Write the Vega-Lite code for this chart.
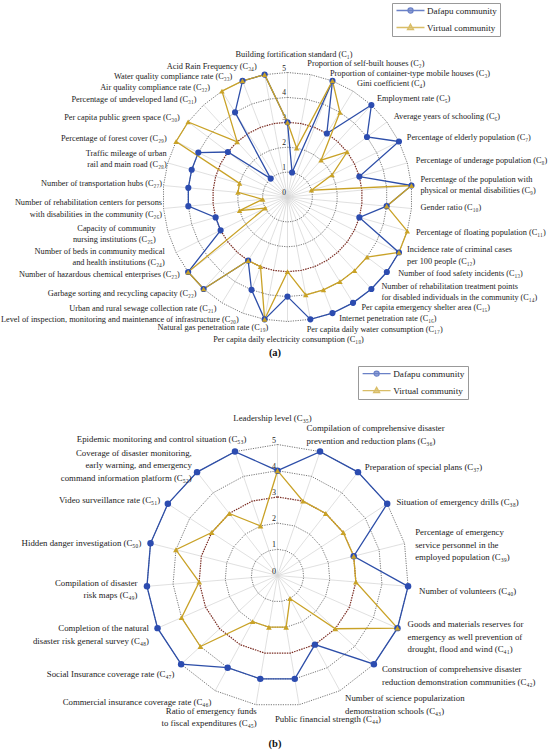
{
  "$schema": "https://vega.github.io/schema/vega-lite/v6.json",
  "padding": 0,
  "spacing": 0,
  "bounds": "flush",
  "background": "white",
  "config": {"view": {"stroke": null}},
  "resolve": {"scale": {"fill": "independent", "stroke": "independent", "shape": "independent"}},
  "datasets": {
    "a": [
      {"i": 0, "label": "Building fortification standard (C₁)", "Dafapu": 3, "Virtual": 3},
      {"i": 1, "label": "Proportion of self-built houses (C₂)", "Dafapu": 1, "Virtual": 2},
      {"i": 2, "label": "Proportion of container-type mobile houses (C₃)", "Dafapu": 5, "Virtual": 5},
      {"i": 3, "label": "Gini coefficient (C₄)", "Dafapu": 3, "Virtual": 4},
      {"i": 4, "label": "Employment rate (C₅)", "Dafapu": 5, "Virtual": 2},
      {"i": 5, "label": "Average years of schooling (C₆)", "Dafapu": 4, "Virtual": 3},
      {"i": 6, "label": "Percentage of elderly population (C₇)", "Dafapu": 5, "Virtual": 2},
      {"i": 7, "label": "Percentage of underage population (C₈)", "Dafapu": 3, "Virtual": 1},
      {"i": 8, "label": "Percentage of the population with\nphysical or mental disabilities (C₉)", "Dafapu": 5, "Virtual": 5},
      {"i": 9, "label": "Gender ratio (C₁₀)", "Dafapu": 4, "Virtual": 4},
      {"i": 10, "label": "Percentage of floating population (C₁₁)", "Dafapu": 3, "Virtual": 5},
      {"i": 11, "label": "Incidence rate of criminal cases\nper 100 people (C₁₂)", "Dafapu": 5, "Virtual": 5},
      {"i": 12, "label": "Number of food safety incidents (C₁₃)", "Dafapu": 5, "Virtual": 4},
      {"i": 13, "label": "Number of rehabilitation treatment points\nfor disabled individuals in the community (C₁₄)", "Dafapu": 5, "Virtual": 4},
      {"i": 14, "label": "Per capita emergency shelter area (C₁₅)", "Dafapu": 5, "Virtual": 4},
      {"i": 15, "label": "Internet penetration rate (C₁₆)", "Dafapu": 5, "Virtual": 4},
      {"i": 16, "label": "Per capita daily water consumption (C₁₇)", "Dafapu": 5, "Virtual": 4},
      {"i": 17, "label": "Per capita daily electricity consumption (C₁₈)", "Dafapu": 4, "Virtual": 3},
      {"i": 18, "label": "Natural gas penetration rate (C₁₉)", "Dafapu": 5, "Virtual": 5},
      {"i": 19, "label": "Level of inspection, monitoring and maintenance of infrastructure (C₂₀)", "Dafapu": 4, "Virtual": 3},
      {"i": 20, "label": "Urban and rural sewage collection rate (C₂₁)", "Dafapu": 3, "Virtual": 3},
      {"i": 21, "label": "Garbage sorting and recycling capacity (C₂₂)", "Dafapu": 5, "Virtual": 5},
      {"i": 22, "label": "Number of hazardous chemical enterprises  (C₂₃)", "Dafapu": 5, "Virtual": 5},
      {"i": 23, "label": "Number of beds in community medical\nand health institutions (C₂₄)", "Dafapu": 3, "Virtual": 1},
      {"i": 24, "label": "Capacity of community\nnursing institutions (C₂₅)", "Dafapu": 3, "Virtual": 2},
      {"i": 25, "label": "Number of rehabilitation centers for persons\nwith disabilities in the community (C₂₆)", "Dafapu": 4, "Virtual": 1},
      {"i": 26, "label": "Number of transportation hubs (C₂₇)", "Dafapu": 4, "Virtual": 2},
      {"i": 27, "label": "Traffic mileage of urban\nrail and main road (C₂₈)", "Dafapu": 4, "Virtual": 2},
      {"i": 28, "label": "Percentage of forest cover (C₂₉)", "Dafapu": 4, "Virtual": 5},
      {"i": 29, "label": "Per capita public green space (C₃₀)", "Dafapu": 3, "Virtual": 5},
      {"i": 30, "label": "Percentage of undeveloped land (C₃₁)", "Dafapu": 1, "Virtual": 3},
      {"i": 31, "label": "Air quality compliance rate (C₃₂)", "Dafapu": 4, "Virtual": 5},
      {"i": 32, "label": "Water quality compliance rate (C₃₃)", "Dafapu": 5, "Virtual": 5},
      {"i": 33, "label": "Acid Rain Frequency (C₃₄)", "Dafapu": 5, "Virtual": 5}
    ],
    "b": [
      {"i": 0, "label": "Leadership level (C₃₅)", "Dafapu": 4, "Virtual": 4},
      {"i": 1, "label": "Compilation of comprehensive disaster\nprevention and reduction plans (C₃₆)", "Dafapu": 5, "Virtual": 3},
      {"i": 2, "label": "Preparation of special plans (C₃₇)", "Dafapu": 5, "Virtual": 3},
      {"i": 3, "label": "Situation of emergency drills (C₃₈)", "Dafapu": 5, "Virtual": 3},
      {"i": 4, "label": "Percentage of emergency\nservice personnel in the\nemployed population (C₃₉)", "Dafapu": 3, "Virtual": 3},
      {"i": 5, "label": "Number of volunteers (C₄₀)", "Dafapu": 5, "Virtual": 3},
      {"i": 6, "label": "Goods and materials reserves for\nemergency as well prevention of\ndrought, flood and wind (C₄₁)", "Dafapu": 5, "Virtual": 5},
      {"i": 7, "label": "Construction of comprehensive disaster\nreduction demonstration communities (C₄₂)", "Dafapu": 5, "Virtual": 3},
      {"i": 8, "label": "Number of science popularization\ndemonstration schools (C₄₃)", "Dafapu": 3, "Virtual": 1},
      {"i": 9, "label": "Public financial strength (C₄₄)", "Dafapu": 4, "Virtual": 2},
      {"i": 10, "label": "Ratio of emergency funds\nto fiscal expenditures (C₄₅)", "Dafapu": 4, "Virtual": 2},
      {"i": 11, "label": "Commercial insurance coverage rate (C₄₆)", "Dafapu": 4, "Virtual": 2},
      {"i": 12, "label": "Social Insurance coverage rate (C₄₇)", "Dafapu": 5, "Virtual": 4},
      {"i": 13, "label": "Completion of the natural\ndisaster risk general survey (C₄₈)", "Dafapu": 5, "Virtual": 4},
      {"i": 14, "label": "Compilation of disaster\nrisk maps (C₄₉)", "Dafapu": 5, "Virtual": 3},
      {"i": 15, "label": "Hidden danger investigation (C₅₀)", "Dafapu": 5, "Virtual": 4},
      {"i": 16, "label": "Video surveillance rate (C₅₁)", "Dafapu": 5, "Virtual": 3},
      {"i": 17, "label": "Coverage of disaster monitoring,\nearly warning, and emergency\ncommand information platform (C₅₂)", "Dafapu": 5, "Virtual": 3},
      {"i": 18, "label": "Epidemic monitoring and control situation (C₅₃)", "Dafapu": 5, "Virtual": 2}
    ]
  },
  "vconcat": [
    {
      "width": 550,
      "height": 362,
      "title": {"text": "(a)", "orient": "bottom", "offset": -14, "font": "Liberation Serif", "fontSize": 10.5, "fontWeight": "bold", "color": "#111"},
      "data": {"name": "a"},
      "transform": [
        {"calculate": "2*PI*datum.i/34", "as": "ang"},
        {"calculate": "datum.i*360/34", "as": "deg"},
        {"calculate": "5.42*sin(datum.ang)", "as": "lx"},
        {"calculate": "5.42*cos(datum.ang) + (length(split(datum.label, '\\n')) - 1)*0.227", "as": "ly"}
      ],
      "encoding": {
        "x": {"field": "px", "type": "quantitative", "scale": {"domain": [-11.546, 10.542], "nice": false, "zero": false}, "axis": null},
        "y": {"field": "py", "type": "quantitative", "scale": {"domain": [-6.627, 7.912], "nice": false, "zero": false}, "axis": null}
      },
      "layer": [
        {
          "transform": [{"calculate": "0", "as": "px"}, {"calculate": "0", "as": "py"}, {"calculate": "5*sin(datum.ang)", "as": "px2"}, {"calculate": "5*cos(datum.ang)", "as": "py2"}],
          "mark": {"type": "rule", "color": "#d8d8d8", "strokeWidth": 0.8},
          "encoding": {"x2": {"field": "px2"}, "y2": {"field": "py2"}}
        },
        {
          "transform": [{"calculate": "[1,2,4,5]", "as": "lv"}, {"flatten": ["lv"]}, {"calculate": "datum.lv*sin(datum.ang)", "as": "px"}, {"calculate": "datum.lv*cos(datum.ang)", "as": "py"}],
          "mark": {"type": "line", "interpolate": "linear-closed", "color": "#555555", "strokeWidth": 0.8, "strokeDash": [1.2, 1.2]},
          "encoding": {"detail": {"field": "lv", "type": "nominal"}, "order": {"field": "i", "type": "quantitative"}}
        },
        {
          "transform": [{"calculate": "3*sin(datum.ang)", "as": "px"}, {"calculate": "3*cos(datum.ang)", "as": "py"}],
          "mark": {"type": "line", "interpolate": "linear-closed", "color": "#7a2c22", "strokeWidth": 1.2, "strokeDash": [1.5, 1]},
          "encoding": {"order": {"field": "i", "type": "quantitative"}}
        },
        {
          "transform": [{"filter": "datum.i == 0"}, {"calculate": "[0,1,2,3,4,5]", "as": "lv"}, {"flatten": ["lv"]}, {"calculate": "0", "as": "px"}, {"calculate": "datum.lv", "as": "py"}],
          "mark": {"type": "text", "align": "right", "baseline": "bottom", "dx": -1.5, "font": "Liberation Serif", "fontSize": 7.5, "color": "#222"},
          "encoding": {"text": {"field": "lv", "type": "nominal"}}
        },
        {
          "transform": [{"calculate": "datum.Dafapu*sin(datum.ang)", "as": "px"}, {"calculate": "datum.Dafapu*cos(datum.ang)", "as": "py"}],
          "mark": {"type": "line", "interpolate": "linear-closed", "color": "#2d4ea8", "strokeWidth": 1.3},
          "encoding": {"order": {"field": "i", "type": "quantitative"}}
        },
        {
          "transform": [{"calculate": "datum.Virtual*sin(datum.ang)", "as": "px"}, {"calculate": "datum.Virtual*cos(datum.ang)", "as": "py"}],
          "mark": {"type": "line", "interpolate": "linear-closed", "color": "#c9a227", "strokeWidth": 1.3},
          "encoding": {"order": {"field": "i", "type": "quantitative"}}
        },
        {
          "transform": [{"calculate": "datum.Dafapu*sin(datum.ang)", "as": "px"}, {"calculate": "datum.Dafapu*cos(datum.ang)", "as": "py"}],
          "mark": {"type": "point", "shape": "circle", "filled": true, "size": 38, "color": "#2c4cb0", "opacity": 1}
        },
        {
          "transform": [{"calculate": "datum.Virtual*sin(datum.ang)", "as": "px"}, {"calculate": "datum.Virtual*cos(datum.ang)", "as": "py"}],
          "mark": {"type": "point", "shape": "triangle-up", "filled": true, "size": 30, "color": "#c9a227", "opacity": 1}
        },
        {
          "transform": [{"filter": "datum.deg < 5"}, {"calculate": "datum.lx", "as": "px"}, {"calculate": "datum.ly", "as": "py"}],
          "mark": {"type": "text", "align": "center", "baseline": "bottom", "dx": 6.5, "dy": -3, "lineBreak": "\n", "lineHeight": 11.3, "font": "Liberation Serif", "fontSize": 8.3, "color": "#222"},
          "encoding": {"text": {"field": "label", "type": "nominal"}}
        },
        {
          "transform": [{"filter": "datum.deg > 5 && datum.deg < 15"}, {"calculate": "datum.lx", "as": "px"}, {"calculate": "datum.ly", "as": "py"}],
          "mark": {"type": "text", "align": "left", "baseline": "middle", "dx": -5, "dy": 0, "lineBreak": "\n", "lineHeight": 11.3, "font": "Liberation Serif", "fontSize": 8.3, "color": "#222"},
          "encoding": {"text": {"field": "label", "type": "nominal"}}
        },
        {
          "transform": [{"filter": "datum.deg > 15 && datum.deg < 25"}, {"calculate": "datum.lx", "as": "px"}, {"calculate": "datum.ly", "as": "py"}],
          "mark": {"type": "text", "align": "left", "baseline": "middle", "dx": -6.3, "dy": 2.5, "lineBreak": "\n", "lineHeight": 11.3, "font": "Liberation Serif", "fontSize": 8.3, "color": "#222"},
          "encoding": {"text": {"field": "label", "type": "nominal"}}
        },
        {
          "transform": [{"filter": "datum.deg > 25 && datum.deg < 90"}, {"calculate": "datum.lx", "as": "px"}, {"calculate": "datum.ly", "as": "py"}],
          "mark": {"type": "text", "align": "left", "baseline": "middle", "dx": -1.5, "dy": 1.3, "lineBreak": "\n", "lineHeight": 11.3, "font": "Liberation Serif", "fontSize": 8.3, "color": "#222"},
          "encoding": {"text": {"field": "label", "type": "nominal"}}
        },
        {
          "transform": [{"filter": "datum.deg > 90 && datum.deg < 120"}, {"calculate": "datum.lx", "as": "px"}, {"calculate": "datum.ly", "as": "py"}],
          "mark": {"type": "text", "align": "left", "baseline": "middle", "dx": -1.3, "dy": -1, "lineBreak": "\n", "lineHeight": 11.3, "font": "Liberation Serif", "fontSize": 8.3, "color": "#222"},
          "encoding": {"text": {"field": "label", "type": "nominal"}}
        },
        {
          "transform": [{"filter": "datum.deg > 120 && datum.deg < 165"}, {"calculate": "datum.lx", "as": "px"}, {"calculate": "datum.ly", "as": "py"}],
          "mark": {"type": "text", "align": "left", "baseline": "middle", "dx": 3, "dy": -4, "lineBreak": "\n", "lineHeight": 11.3, "font": "Liberation Serif", "fontSize": 8.2, "color": "#222"},
          "encoding": {"text": {"field": "label", "type": "nominal"}}
        },
        {
          "transform": [{"filter": "datum.deg > 165 && datum.deg < 178"}, {"calculate": "datum.lx", "as": "px"}, {"calculate": "datum.ly", "as": "py"}],
          "mark": {"type": "text", "align": "left", "baseline": "middle", "dx": -5.6, "lineBreak": "\n", "lineHeight": 11.3, "font": "Liberation Serif", "fontSize": 8.3, "color": "#222"},
          "encoding": {"text": {"field": "label", "type": "nominal"}}
        },
        {
          "transform": [{"filter": "datum.deg > 178 && datum.deg < 182"}, {"calculate": "datum.lx", "as": "px"}, {"calculate": "datum.ly", "as": "py"}],
          "mark": {"type": "text", "align": "center", "baseline": "top", "dx": 1, "dy": 3, "lineBreak": "\n", "lineHeight": 11.3, "font": "Liberation Serif", "fontSize": 8.3, "color": "#222"},
          "encoding": {"text": {"field": "label", "type": "nominal"}}
        },
        {
          "transform": [{"filter": "datum.deg > 182 && datum.deg < 195"}, {"calculate": "datum.lx", "as": "px"}, {"calculate": "datum.ly", "as": "py"}],
          "mark": {"type": "text", "align": "right", "baseline": "middle", "dx": 5.6, "dy": -1.4, "lineBreak": "\n", "lineHeight": 11.3, "font": "Liberation Serif", "fontSize": 8.3, "color": "#222"},
          "encoding": {"text": {"field": "label", "type": "nominal"}}
        },
        {
          "transform": [{"filter": "datum.deg > 195 && datum.deg < 240"}, {"calculate": "datum.lx", "as": "px"}, {"calculate": "datum.ly", "as": "py"}],
          "mark": {"type": "text", "align": "right", "baseline": "middle", "dy": -3, "lineBreak": "\n", "lineHeight": 11.3, "font": "Liberation Serif", "fontSize": 8.3, "color": "#222"},
          "encoding": {"text": {"field": "label", "type": "nominal"}}
        },
        {
          "transform": [{"filter": "datum.deg > 240 && datum.deg < 260"}, {"calculate": "datum.lx", "as": "px"}, {"calculate": "datum.ly", "as": "py"}],
          "mark": {"type": "text", "align": "right", "baseline": "middle", "dx": -2, "dy": 0.5, "lineBreak": "\n", "lineHeight": 11.3, "font": "Liberation Serif", "fontSize": 8.3, "color": "#222"},
          "encoding": {"text": {"field": "label", "type": "nominal"}}
        },
        {
          "transform": [{"filter": "datum.deg > 260 && datum.deg < 290"}, {"calculate": "datum.lx", "as": "px"}, {"calculate": "datum.ly", "as": "py"}],
          "mark": {"type": "text", "align": "right", "baseline": "middle", "dx": 9, "dy": -0.5, "lineBreak": "\n", "lineHeight": 11.3, "font": "Liberation Serif", "fontSize": 8.3, "color": "#222"},
          "encoding": {"text": {"field": "label", "type": "nominal"}}
        },
        {
          "transform": [{"filter": "datum.deg > 290 && datum.deg < 325"}, {"calculate": "datum.lx", "as": "px"}, {"calculate": "datum.ly", "as": "py"}],
          "mark": {"type": "text", "align": "right", "baseline": "middle", "dy": 2.4, "lineBreak": "\n", "lineHeight": 11.3, "font": "Liberation Serif", "fontSize": 8.3, "color": "#222"},
          "encoding": {"text": {"field": "label", "type": "nominal"}}
        },
        {
          "transform": [{"filter": "datum.deg > 325 && datum.deg < 345"}, {"calculate": "datum.lx", "as": "px"}, {"calculate": "datum.ly", "as": "py"}],
          "mark": {"type": "text", "align": "right", "baseline": "middle", "dx": -6.4, "dy": 5.8, "lineBreak": "\n", "lineHeight": 11.3, "font": "Liberation Serif", "fontSize": 8.3, "color": "#222"},
          "encoding": {"text": {"field": "label", "type": "nominal"}}
        },
        {
          "transform": [{"filter": "datum.deg > 345"}, {"calculate": "datum.lx", "as": "px"}, {"calculate": "datum.ly", "as": "py"}],
          "mark": {"type": "text", "align": "right", "baseline": "middle", "dx": -6, "dy": 2.5, "lineBreak": "\n", "lineHeight": 11.3, "font": "Liberation Serif", "fontSize": 8.3, "color": "#222"},
          "encoding": {"text": {"field": "label", "type": "nominal"}}
        },
        {
          "transform": [{"filter": "false"}],
          "mark": {"type": "point", "filled": true},
          "encoding": {
            "fill": {"field": "series", "type": "nominal", "scale": {"domain": ["Dafapu community", "Virtual community"], "range": ["#2c4cb0", "#c9a227"]},
              "legend": {"title": null, "orient": "none", "legendX": 392, "legendY": 3, "padding": 3, "strokeColor": "#999", "fillColor": "#fff", "labelFont": "Liberation Serif", "labelFontSize": 9, "labelColor": "#222", "labelOffset": 23, "rowPadding": 5, "symbolSize": 36, "symbolStrokeWidth": 1.3}},
            "stroke": {"field": "series", "type": "nominal", "scale": {"domain": ["Dafapu community", "Virtual community"], "range": ["#2c4cb0", "#c9a227"]},
              "legend": {"title": null, "orient": "none", "legendX": 392, "legendY": 3, "padding": 3, "strokeColor": "#999", "fillColor": "#fff", "labelFont": "Liberation Serif", "labelFontSize": 9, "labelColor": "#222", "labelOffset": 23, "rowPadding": 5, "symbolSize": 36, "symbolStrokeWidth": 1.3}},
            "shape": {"field": "series", "type": "nominal", "scale": {"domain": ["Dafapu community", "Virtual community"], "range": ["M-1,0H8.33M4.52,0A0.85,0.85 0 1,1 2.82,0A0.85,0.85 0 1,1 4.52,0Z", "M-1,0H8.33M3.67,-1.1L4.67,0.7L2.67,0.7Z"]},
              "legend": {"title": null, "orient": "none", "legendX": 392, "legendY": 3, "padding": 3, "strokeColor": "#999", "fillColor": "#fff", "labelFont": "Liberation Serif", "labelFontSize": 9, "labelColor": "#222", "labelOffset": 23, "rowPadding": 5, "symbolSize": 36, "symbolStrokeWidth": 1.3}}
          }
        }
      ]
    },
    {
      "width": 550,
      "height": 393,
      "title": {"text": "(b)", "orient": "bottom", "offset": -16, "font": "Liberation Serif", "fontSize": 10.5, "fontWeight": "bold", "color": "#111"},
      "data": {"name": "b"},
      "transform": [
        {"calculate": "2*PI*datum.i/19", "as": "ang"},
        {"calculate": "datum.i*360/19", "as": "deg"},
        {"calculate": "5.42*sin(datum.ang)", "as": "lx"},
        {"calculate": "5.42*cos(datum.ang) + (length(split(datum.label, '\\n')) - 1)*0.237", "as": "ly"}
      ],
      "encoding": {
        "x": {"field": "px", "type": "quantitative", "scale": {"domain": [-10.592, 10.4], "nice": false, "zero": false}, "axis": null},
        "y": {"field": "py", "type": "quantitative", "scale": {"domain": [-6.851, 8.149], "nice": false, "zero": false}, "axis": null}
      },
      "layer": [
        {
          "transform": [{"calculate": "0", "as": "px"}, {"calculate": "0", "as": "py"}, {"calculate": "5*sin(datum.ang)", "as": "px2"}, {"calculate": "5*cos(datum.ang)", "as": "py2"}],
          "mark": {"type": "rule", "color": "#d8d8d8", "strokeWidth": 0.8},
          "encoding": {"x2": {"field": "px2"}, "y2": {"field": "py2"}}
        },
        {
          "transform": [{"calculate": "[1,2,4,5]", "as": "lv"}, {"flatten": ["lv"]}, {"calculate": "datum.lv*sin(datum.ang)", "as": "px"}, {"calculate": "datum.lv*cos(datum.ang)", "as": "py"}],
          "mark": {"type": "line", "interpolate": "linear-closed", "color": "#555555", "strokeWidth": 0.8, "strokeDash": [1.2, 1.2]},
          "encoding": {"detail": {"field": "lv", "type": "nominal"}, "order": {"field": "i", "type": "quantitative"}}
        },
        {
          "transform": [{"calculate": "3*sin(datum.ang)", "as": "px"}, {"calculate": "3*cos(datum.ang)", "as": "py"}],
          "mark": {"type": "line", "interpolate": "linear-closed", "color": "#7a2c22", "strokeWidth": 1.2, "strokeDash": [1.5, 1]},
          "encoding": {"order": {"field": "i", "type": "quantitative"}}
        },
        {
          "transform": [{"filter": "datum.i == 0"}, {"calculate": "[0,1,2,3,4,5]", "as": "lv"}, {"flatten": ["lv"]}, {"calculate": "0", "as": "px"}, {"calculate": "datum.lv", "as": "py"}],
          "mark": {"type": "text", "align": "right", "baseline": "bottom", "dx": -1.5, "font": "Liberation Serif", "fontSize": 8, "color": "#222"},
          "encoding": {"text": {"field": "lv", "type": "nominal"}}
        },
        {
          "transform": [{"calculate": "datum.Dafapu*sin(datum.ang)", "as": "px"}, {"calculate": "datum.Dafapu*cos(datum.ang)", "as": "py"}],
          "mark": {"type": "line", "interpolate": "linear-closed", "color": "#2d4ea8", "strokeWidth": 1.3},
          "encoding": {"order": {"field": "i", "type": "quantitative"}}
        },
        {
          "transform": [{"calculate": "datum.Virtual*sin(datum.ang)", "as": "px"}, {"calculate": "datum.Virtual*cos(datum.ang)", "as": "py"}],
          "mark": {"type": "line", "interpolate": "linear-closed", "color": "#c9a227", "strokeWidth": 1.3},
          "encoding": {"order": {"field": "i", "type": "quantitative"}}
        },
        {
          "transform": [{"calculate": "datum.Dafapu*sin(datum.ang)", "as": "px"}, {"calculate": "datum.Dafapu*cos(datum.ang)", "as": "py"}],
          "mark": {"type": "point", "shape": "circle", "filled": true, "size": 42, "color": "#2c4cb0", "opacity": 1}
        },
        {
          "transform": [{"calculate": "datum.Virtual*sin(datum.ang)", "as": "px"}, {"calculate": "datum.Virtual*cos(datum.ang)", "as": "py"}],
          "mark": {"type": "point", "shape": "triangle-up", "filled": true, "size": 32, "color": "#c9a227", "opacity": 1}
        },
        {
          "transform": [{"filter": "datum.deg < 5"}, {"calculate": "datum.lx", "as": "px"}, {"calculate": "datum.ly", "as": "py"}],
          "mark": {"type": "text", "align": "center", "baseline": "bottom", "dx": -5, "dy": -10, "lineBreak": "\n", "lineHeight": 12.4, "font": "Liberation Serif", "fontSize": 8.8, "color": "#222"},
          "encoding": {"text": {"field": "label", "type": "nominal"}}
        },
        {
          "transform": [{"filter": "datum.deg > 5 && datum.deg < 25"}, {"calculate": "datum.lx", "as": "px"}, {"calculate": "datum.ly", "as": "py"}],
          "mark": {"type": "text", "align": "left", "baseline": "middle", "dx": -17, "dy": -6.7, "lineBreak": "\n", "lineHeight": 12.4, "font": "Liberation Serif", "fontSize": 8.8, "color": "#222"},
          "encoding": {"text": {"field": "label", "type": "nominal"}}
        },
        {
          "transform": [{"filter": "datum.deg > 25 && datum.deg < 160"}, {"calculate": "datum.lx", "as": "px"}, {"calculate": "datum.ly", "as": "py"}],
          "mark": {"type": "text", "align": "left", "baseline": "middle", "dy": 4, "lineBreak": "\n", "lineHeight": 12.4, "font": "Liberation Serif", "fontSize": 8.8, "color": "#222"},
          "encoding": {"text": {"field": "label", "type": "nominal"}}
        },
        {
          "transform": [{"filter": "datum.deg > 160 && datum.deg < 180"}, {"calculate": "datum.lx", "as": "px"}, {"calculate": "datum.ly", "as": "py"}],
          "mark": {"type": "text", "align": "left", "baseline": "middle", "dx": -26, "dy": 3, "lineBreak": "\n", "lineHeight": 12.4, "font": "Liberation Serif", "fontSize": 8.8, "color": "#222"},
          "encoding": {"text": {"field": "label", "type": "nominal"}}
        },
        {
          "transform": [{"filter": "datum.deg > 180 && datum.deg < 195"}, {"calculate": "datum.lx", "as": "px"}, {"calculate": "datum.ly", "as": "py"}],
          "mark": {"type": "text", "align": "right", "baseline": "middle", "dx": 2.6, "dy": 1.2, "lineBreak": "\n", "lineHeight": 12.4, "font": "Liberation Serif", "fontSize": 8.8, "color": "#222"},
          "encoding": {"text": {"field": "label", "type": "nominal"}}
        },
        {
          "transform": [{"filter": "datum.deg > 195 && datum.deg < 330"}, {"calculate": "datum.lx", "as": "px"}, {"calculate": "datum.ly", "as": "py"}],
          "mark": {"type": "text", "align": "right", "baseline": "middle", "dx": 1.5, "dy": 2, "lineBreak": "\n", "lineHeight": 12.4, "font": "Liberation Serif", "fontSize": 8.8, "color": "#222"},
          "encoding": {"text": {"field": "label", "type": "nominal"}}
        },
        {
          "transform": [{"filter": "datum.deg > 330"}, {"calculate": "datum.lx", "as": "px"}, {"calculate": "datum.ly", "as": "py"}],
          "mark": {"type": "text", "align": "right", "baseline": "middle", "dx": 15, "dy": -2, "lineBreak": "\n", "lineHeight": 12.4, "font": "Liberation Serif", "fontSize": 8.8, "color": "#222"},
          "encoding": {"text": {"field": "label", "type": "nominal"}}
        },
        {
          "transform": [{"filter": "false"}],
          "mark": {"type": "point", "filled": true},
          "encoding": {
            "fill": {"field": "series", "type": "nominal", "scale": {"domain": ["Dafapu community", "Virtual community"], "range": ["#2c4cb0", "#c9a227"]},
              "legend": {"title": null, "orient": "none", "legendX": 358, "legendY": 4, "padding": 3, "strokeColor": "#999", "fillColor": "#fff", "labelFont": "Liberation Serif", "labelFontSize": 9.2, "labelColor": "#222", "labelOffset": 23, "rowPadding": 5, "symbolSize": 36, "symbolStrokeWidth": 1.3}},
            "stroke": {"field": "series", "type": "nominal", "scale": {"domain": ["Dafapu community", "Virtual community"], "range": ["#2c4cb0", "#c9a227"]},
              "legend": {"title": null, "orient": "none", "legendX": 358, "legendY": 4, "padding": 3, "strokeColor": "#999", "fillColor": "#fff", "labelFont": "Liberation Serif", "labelFontSize": 9.2, "labelColor": "#222", "labelOffset": 23, "rowPadding": 5, "symbolSize": 36, "symbolStrokeWidth": 1.3}},
            "shape": {"field": "series", "type": "nominal", "scale": {"domain": ["Dafapu community", "Virtual community"], "range": ["M-1,0H8.33M4.52,0A0.85,0.85 0 1,1 2.82,0A0.85,0.85 0 1,1 4.52,0Z", "M-1,0H8.33M3.67,-1.1L4.67,0.7L2.67,0.7Z"]},
              "legend": {"title": null, "orient": "none", "legendX": 358, "legendY": 4, "padding": 3, "strokeColor": "#999", "fillColor": "#fff", "labelFont": "Liberation Serif", "labelFontSize": 9.2, "labelColor": "#222", "labelOffset": 23, "rowPadding": 5, "symbolSize": 36, "symbolStrokeWidth": 1.3}}
          }
        }
      ]
    }
  ]
}
